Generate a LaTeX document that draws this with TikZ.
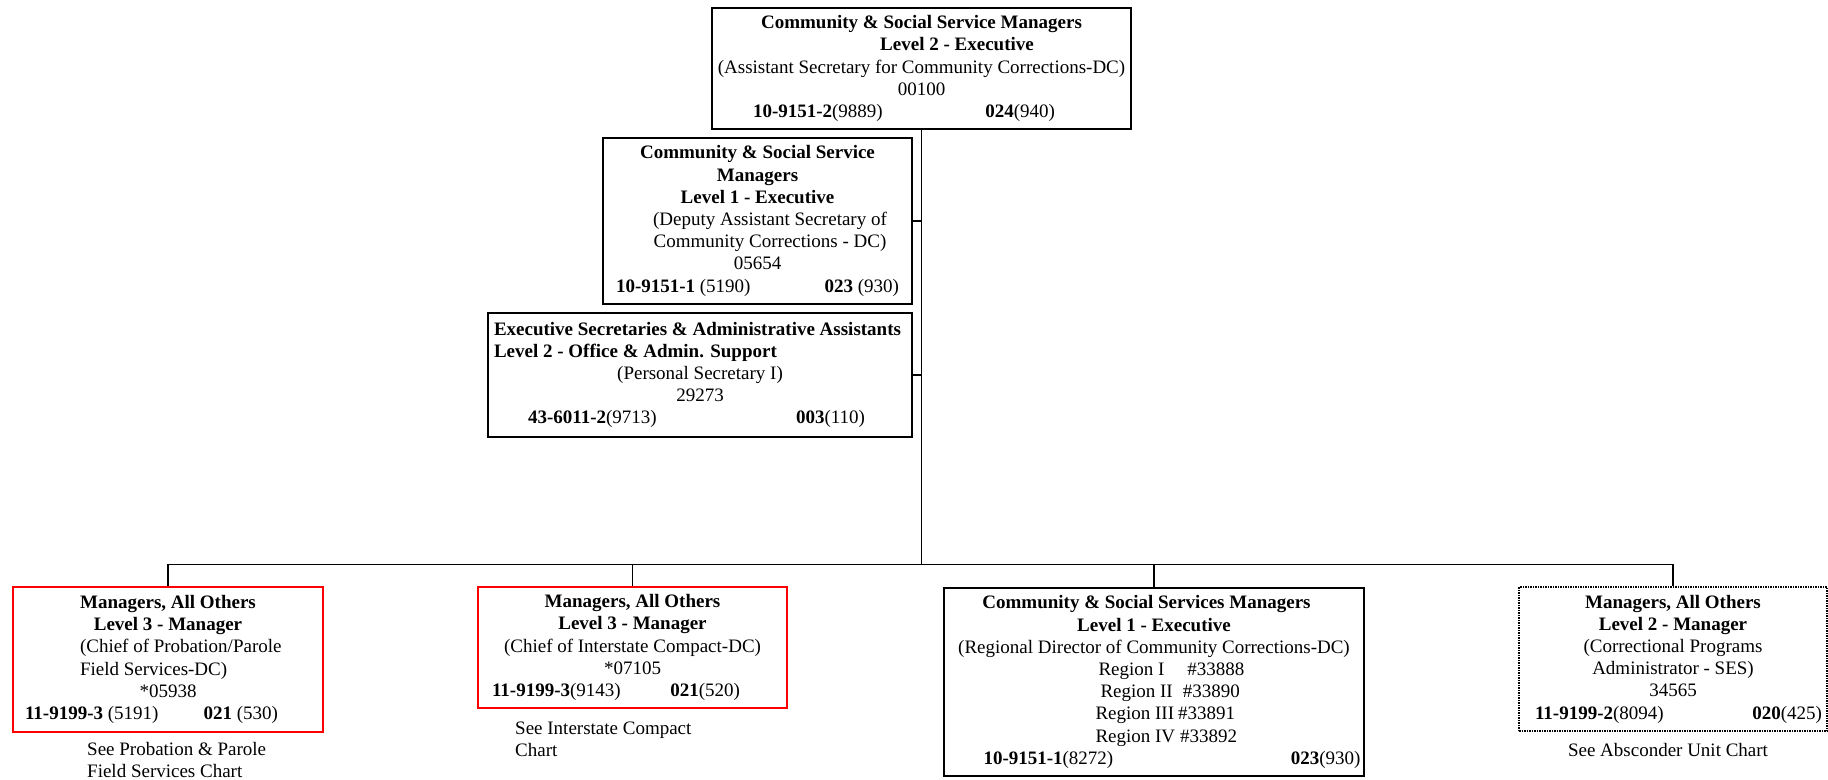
\documentclass[tikz,border=0pt]{standalone}
\usepackage{fontspec}
\setmainfont{Liberation Serif}
\begin{document}
\begin{tikzpicture}[x=1pt,y=-1pt,
  every node/.style={font=\fontsize{19}{22.2}\selectfont, inner sep=0pt},
  posbox/.style={draw=black, line width=1.9pt, align=center},
  redbox/.style={posbox, draw=red},
  vacbox/.style={posbox, line width=1.5pt, dash pattern=on 1.5pt off 1pt},
  link/.style={line width=1.9pt},
  note/.style={align=left}]
\useasboundingbox (0,0) rectangle (1828,779);

% upper chain of command
\node[posbox, minimum width=419pt, minimum height=121pt] (asec) at (921.5,68.5) {%
  \textbf{Community \& Social Service Managers}\\
  \hspace*{71pt}\textbf{Level 2 - Executive}\\
  (Assistant Secretary for Community Corrections-DC)\\
  00100\\
  \makebox[302pt]{\textbf{10-9151-2}(9889)\hfill\textbf{024}(940)}\hspace*{35pt}};

\node[posbox, minimum width=309pt, minimum height=166pt] (dasec) at (757.5,221) {%
  \textbf{Community \& Social Service}\\
  \textbf{Managers}\\
  \textbf{Level 1 - Executive}\\
  \hspace*{25pt}(Deputy Assistant Secretary of\\
  \hspace*{25pt}Community Corrections - DC)\\
  05654\\
  \makebox[283pt]{\textbf{10-9151-1} (5190)\hfill\textbf{023} (930)}};

\node[posbox, minimum width=424pt, minimum height=124pt] (sec) at (700,375) {%
  \makebox[412pt][l]{\textbf{Executive Secretaries \& Administrative Assistants}}\\
  \makebox[412pt][l]{\textbf{Level 2 - Office \& Admin. Support}}\\
  (Personal Secretary I)\\
  29273\\
  \makebox[337pt]{\textbf{43-6011-2}(9713)\hfill\textbf{003}(110)}\hspace*{7pt}};

% field positions
\node[redbox, minimum width=310pt, minimum height=145pt] (probfs) at (168,659.5) {%
  \textbf{Managers, All Others}\\
  \textbf{Level 3 - Manager}\\
  \makebox[176pt][l]{(Chief of Probation/Parole}\\
  \makebox[176pt][l]{Field Services-DC)}\\
  *05938\\
  \makebox[253pt]{\textbf{11-9199-3} (5191)\hfill\textbf{021} (530)}\hspace*{33pt}};

\node[redbox, minimum width=309pt, minimum height=121pt] (chiefic) at (632.5,647.5) {%
  \textbf{Managers, All Others}\\
  \textbf{Level 3 - Manager}\\
  (Chief of Interstate Compact-DC)\\
  *07105\\
  \makebox[248pt]{\textbf{11-9199-3}(9143)\hfill\textbf{021}(520)}\hspace*{33pt}};

\node[posbox, minimum width=420pt, minimum height=188pt] (regdir) at (1154,682) {%
  \textbf{Community \& Social Services Managers}\hspace*{15pt}\\
  \textbf{Level 1 - Executive}\\
  (Regional Director of Community Corrections-DC)\\
  \makebox[117pt][l]{\hspace*{3pt}Region I\hspace*{23pt}\#33888}\\
  \makebox[117pt][l]{\hspace*{5pt}Region II\hspace*{10pt}\#33890}\\
  \makebox[117pt][l]{Region III\hspace*{4pt}\#33891}\\
  \makebox[117pt][l]{Region IV\hspace*{5pt}\#33892}\\
  \hspace*{36pt}\makebox[377pt]{\textbf{10-9151-1}(8272)\hfill\textbf{023}(930)}};

\node[vacbox, minimum width=308pt, minimum height=144pt] (absc) at (1673,659) {%
  \textbf{Managers, All Others}\\
  \textbf{Level 2 - Manager}\\
  (Correctional Programs\\
  Administrator - SES)\\
  34565\\
  \hspace*{11pt}\makebox[287pt]{\textbf{11-9199-2}(8094)\hfill\textbf{020}(425)}};

% references to the detailed charts
\node[note, anchor=west] (probnote) at (87,760) {See Probation \& Parole\\Field Services Chart};
\node[note, anchor=west] (icnote) at (515,739) {See Interstate Compact\\Chart};
\node (absnote) at (1668,750) {See Absconder Unit Chart};

% reporting lines
\coordinate (busy) at (0,564.5);
\draw[link] (asec.south) -- (asec.south |- busy);
\draw[link] (dasec.east) -- (dasec.east -| asec.south);
\draw[link] (sec.east) -- (sec.east -| asec.south);
\draw[link] (probfs.north) -- (probfs.north |- busy) -- (absc.north |- busy) -- (absc.north);
\draw[link] (chiefic.north) -- (chiefic.north |- busy);
\draw[link] (regdir.north) -- (regdir.north |- busy);
\end{tikzpicture}
\end{document}
